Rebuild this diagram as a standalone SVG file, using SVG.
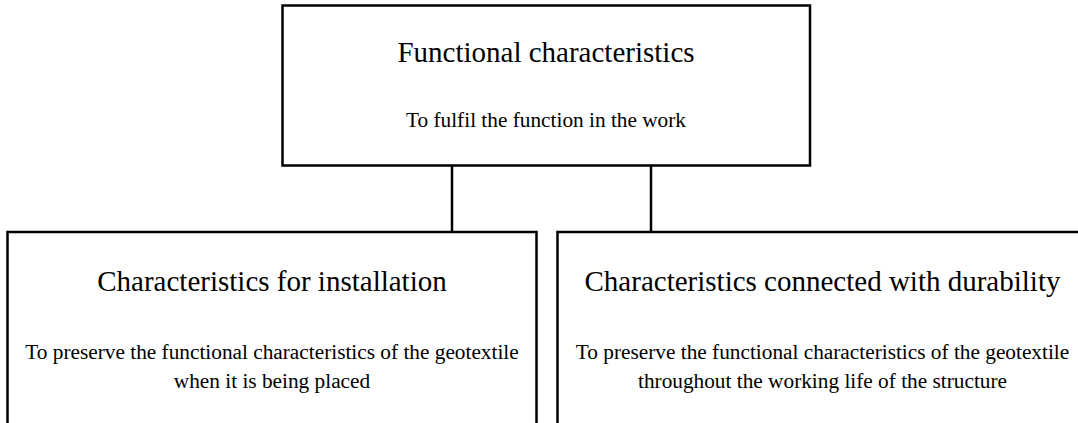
<svg xmlns="http://www.w3.org/2000/svg" width="1078" height="423" viewBox="0 0 1078 423">
<style>
.box{fill:#fff;stroke:#000;stroke-width:2.5}
.con{stroke:#000;stroke-width:2.5;fill:none}
.t{font-family:"Liberation Serif","Times New Roman",serif;font-size:29px;fill:#000;text-anchor:middle}
.s{font-family:"Liberation Serif","Times New Roman",serif;font-size:21.3px;fill:#000;text-anchor:middle}
</style>
<rect width="1078" height="423" fill="#fff"/>
<g id="connectors">
<line class="con" x1="452" y1="165" x2="452" y2="232"/>
<line class="con" x1="651" y1="165" x2="651" y2="232"/>
</g>
<g id="node-functional">
<rect class="box" x="282.5" y="5.5" width="527.5" height="160"/>
<text class="t" x="546" y="62">Functional characteristics</text>
<text class="s" x="546" y="127">To fulfil the function in the work</text>
</g>
<g id="node-installation">
<rect class="box" x="7.5" y="232" width="529" height="300"/>
<text class="t" x="272" y="291">Characteristics for installation</text>
<text class="s" x="272" y="359">To preserve the functional characteristics of the geotextile</text>
<text class="s" x="272" y="388">when it is being placed</text>
</g>
<g id="node-durability">
<rect class="box" x="557.5" y="232" width="530" height="300"/>
<text class="t" x="822.5" y="291">Characteristics connected with durability</text>
<text class="s" x="822.5" y="359">To preserve the functional characteristics of the geotextile</text>
<text class="s" x="822.5" y="388">throughout the working life of the structure</text>
</g>
</svg>
